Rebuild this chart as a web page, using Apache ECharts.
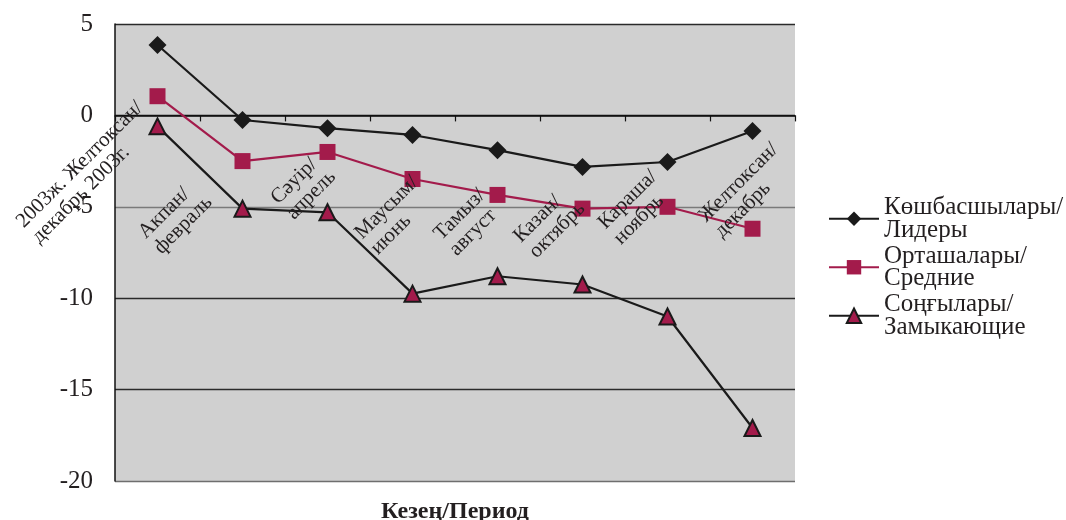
<!DOCTYPE html>
<html>
<head>
<meta charset="utf-8">
<style>
  html, body { margin: 0; padding: 0; background: #ffffff; }
  #chart { width: 1066px; height: 520px; }
</style>
<script src="https://cdn.jsdelivr.net/npm/echarts@6/dist/echarts.min.js"></script>
</head>
<body>
<div id="chart"></div>
<script>
// Periods (two-line labels)
const categories = [
  '2003ж. Желтоксан/\nдекабрь 2003г.',
  'Акпан/\nфевраль',
  'Сәуір/\nапрель',
  'Маусым/\nиюнь',
  'Тамыз/\nавгуст',
  'Казан/\nоктябрь',
  'Караша/\nноябрь',
  'Желтоксан/\nдекабрь'
];

// Series names
const seriesNames = [
  'Көшбасшылары/\nЛидеры',
  'Орташалары/\nСредние',
  'Соңғылары/\nЗамыкающие'
];

// Values per period
const leaders = [3.85, -0.25, -0.7, -1.07, -1.9, -2.82, -2.55, -0.85];
const middle  = [1.05, -2.5, -2.0, -3.48, -4.35, -5.1, -5.0, -6.2];
const closing = [-0.6, -5.1, -5.3, -9.75, -8.8, -9.25, -11.0, -17.1];

// Value axis range
const yMin = -20, yMax = 5, yStep = 5;

// Offset of each rotated period label's centre from its category point on the zero line (px)
const labelShift = [
  [-70, 57], [-67, 102], [-24, 72], [-18, 100],
  [-30, 107], [-33, 107], [-32, 92], [-6, 75]
];

const SERIF = '"Liberation Serif", "DejaVu Serif", serif';
const INK = '#231f20';
const MAROON = '#a31b4b';

const chart = echarts.init(document.getElementById('chart'));

chart.setOption({
  backgroundColor: '#ffffff',
  animation: false,
  title: {
    text: 'Кезең/Период',
    left: 450,
    textAlign: 'center',
    top: 495,
    textStyle: { fontFamily: SERIF, fontSize: 24, fontWeight: 'bold', color: INK }
  },
  grid: {
    left: 115, right: 271, top: 24, bottom: 39,
    outerBoundsMode: 'none',
    containLabel: false,
    show: true, backgroundColor: '#d0d0d0', borderWidth: 0
  },
  legend: {
    orient: 'vertical',
    left: 823,
    top: 190,
    itemWidth: 50,
    itemHeight: 18,
    itemGap: 1,
    data: seriesNames,
    textStyle: { fontFamily: SERIF, fontSize: 25, color: INK, lineHeight: 22.5 }
  },
  xAxis: {
    type: 'category',
    boundaryGap: true,
    data: categories,
    axisLine: { onZero: true, lineStyle: { color: '#111', width: 1.5 } },
    axisTick: { show: true, interval: 0, length: 6, lineStyle: { color: '#111', width: 1.2 } },
    axisLabel: { show: false },
    splitLine: { show: false }
  },
  yAxis: {
    type: 'value',
    min: yMin, max: yMax, interval: yStep,
    axisLine: { show: true, onZero: false, lineStyle: { color: '#111', width: 1.5 } },
    axisTick: { show: false },
    axisLabel: { margin: 22, fontFamily: SERIF, fontSize: 25, color: INK },
    splitLine: {
      show: true,
      lineStyle: { color: ['#6e6e6e', '#2a2a2a', '#2a2a2a', '#7a7a7a', '#111', '#2a2a2a'], width: 1.3 }
    }
  },
  series: [
    {
      name: seriesNames[0], type: 'line', data: leaders,
      symbol: 'diamond', symbolSize: 18,
      itemStyle: { color: '#1a1a1a' },
      lineStyle: { color: '#1a1a1a', width: 2.2 },
      z: 4
    },
    {
      name: seriesNames[1], type: 'line', data: middle,
      symbol: 'rect', symbolSize: 16,
      itemStyle: { color: MAROON },
      lineStyle: { color: MAROON, width: 2.2 },
      z: 3
    },
    {
      name: seriesNames[2], type: 'line', data: closing,
      symbol: 'triangle', symbolSize: 16,
      itemStyle: { color: MAROON, borderColor: '#1a1a1a', borderWidth: 2 },
      lineStyle: { color: '#1a1a1a', width: 2.2 },
      z: 2
    }
  ]
});

// Period labels: rotated 45°, lines left-aligned, anchored on the category axis positions
const zeroY = chart.convertToPixel({ yAxisIndex: 0 }, 0);
chart.setOption({
  graphic: categories.map((c, i) => {
    const cx = chart.convertToPixel({ xAxisIndex: 0 }, i);
    return {
      type: 'text',
      x: cx + labelShift[i][0],
      y: zeroY + labelShift[i][1],
      rotation: Math.PI / 4,
      z: 10,
      silent: true,
      style: {
        text: c.split('\n').map(s => '{l|' + s + '}').join('\n'),
        align: 'center',
        verticalAlign: 'middle',
        fill: INK,
        font: '21px ' + SERIF,
        rich: { l: { align: 'left', fontFamily: SERIF, fontSize: 21, lineHeight: 22, fill: INK, color: INK } }
      }
    };
  })
});
</script>
</body>
</html>
